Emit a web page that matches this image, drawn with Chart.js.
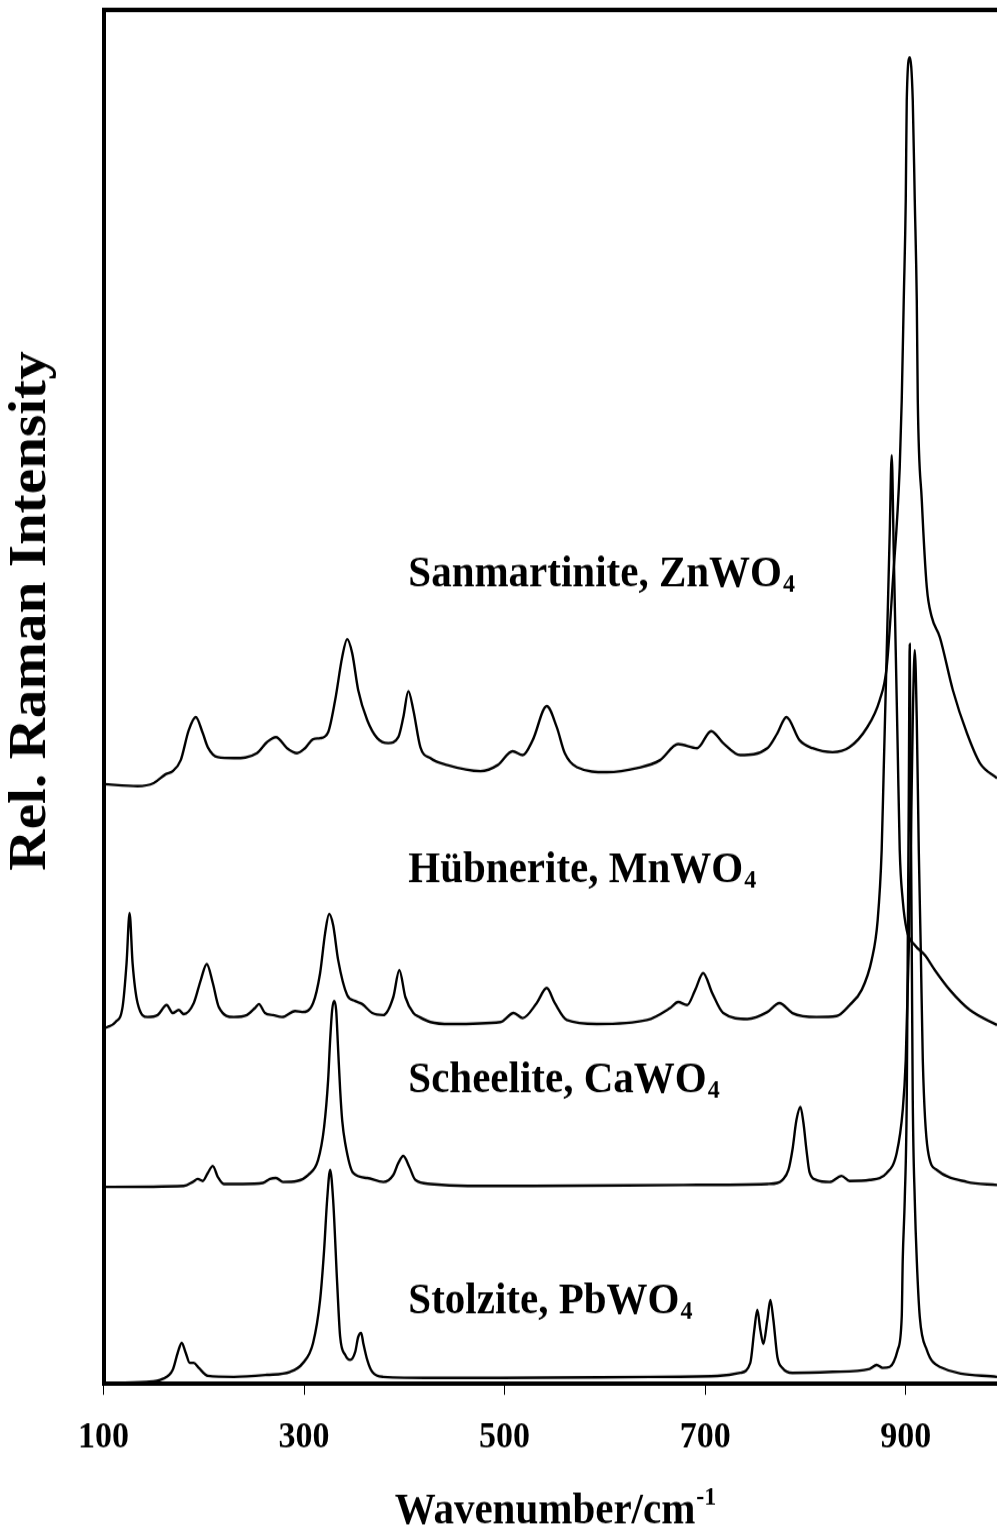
<!DOCTYPE html>
<html>
<head>
<meta charset="utf-8">
<style>
  html, body { margin: 0; padding: 0; background: #fff; overflow: hidden; }
  #wrap { width: 997px; height: 1531px; overflow: hidden; }
  #chart { display: block; transform-origin: 0 0; transform: scaleY(1.09986); }
</style>
<script src="https://cdn.jsdelivr.net/npm/chart.js"></script>
</head>
<body>
<div id="wrap"><canvas id="chart" width="997" height="1392"></canvas></div>
<script>
'use strict'

const tickValues = [100, 300, 500, 700, 900];
const mineralNames = ['Sanmartinite', 'Hübnerite', 'Scheelite', 'Stolzite'];
const formulas = ['ZnWO', 'MnWO', 'CaWO', 'PbWO'];

// Sanmartinite, ZnWO4
const znWn = [100, 134, 150, 162, 169, 177, 185, 192, 199, 204,
    214, 230, 253, 263, 272, 283, 293, 301, 309, 316,
    324, 331, 338, 343, 348, 354, 363, 373, 384, 394,
    399, 404, 409, 416, 426, 443, 476, 493, 508, 518,
    528, 542, 552, 560, 572, 602, 632, 655, 673, 692,
    706, 718, 735, 762, 772, 781, 794, 807, 827, 844,
    861, 874, 881, 887, 894, 896, 898, 900, 901, 904,
    907, 909, 911, 912, 916, 921, 926, 934, 947, 961,
    974, 991];
const znInt = [600, 598, 601, 610, 613, 624, 654, 667, 651, 637,
    627, 626, 631, 642, 647, 636, 631, 636, 645, 646,
    652, 684, 727, 745, 731, 694, 664, 646, 641, 647,
    667, 693, 674, 637, 626, 619, 613, 619, 633, 629,
    644, 678, 657, 631, 617, 612, 616, 624, 640, 636,
    653, 641, 629, 636, 651, 667, 644, 636, 632, 637,
    656, 684, 717, 801, 917, 984, 1084, 1184, 1284, 1327,
    1284, 1184, 1084, 984, 884, 797, 767, 747, 694, 651,
    621, 606];

// Hübnerite, MnWO4
const mnWn = [100, 104, 112, 119, 123, 126, 129, 134, 144, 154,
    163, 169, 175, 180, 190, 197, 203, 209, 215, 230,
    243, 251, 255, 261, 269, 278, 291, 298, 309, 316,
    321, 325, 329, 334, 343, 351, 358, 368, 379, 389,
    395, 401, 409, 415, 426, 446, 496, 509, 518, 532,
    542, 550, 562, 592, 642, 665, 673, 682, 690, 698,
    707, 718, 742, 762, 774, 787, 811, 831, 844, 856,
    866, 872, 876, 878, 880, 882, 884, 886, 888, 890,
    892, 894, 897, 901, 909, 919, 929, 944, 964, 991];
const mnInt = [356, 357, 362, 377, 421, 471, 421, 381, 367, 369,
    379, 371, 374, 370, 381, 404, 420, 401, 377, 367,
    369, 376, 380, 371, 369, 367, 373, 372, 381, 411,
    451, 470, 459, 424, 389, 383, 380, 371, 369, 387,
    414, 387, 371, 367, 362, 360, 362, 371, 366, 381,
    396, 381, 364, 360, 364, 376, 382, 379, 394, 411,
    391, 371, 365, 372, 381, 371, 367, 368, 379, 394,
    424, 464, 534, 613, 692, 771, 850, 929, 834, 734,
    634, 534, 484, 454, 439, 429, 414, 394, 374, 359];

// Scheelite, CaWO4
const caWn = [100, 180, 189, 194, 199, 204, 209, 214, 220, 239,
    259, 266, 272, 279, 293, 304, 314, 320, 324, 326,
    328, 330, 332, 334, 336, 338, 341, 349, 363, 379,
    389, 394, 399, 405, 411, 426, 463, 528, 678, 762,
    772, 777, 783, 787, 791, 795, 798, 801, 804, 811,
    824, 836, 844, 864, 881, 891, 897, 900, 903, 905,
    907, 909, 911, 913, 915, 917, 922, 931, 961, 991];
const caInt = [197, 198, 202, 205, 203, 211, 218, 207, 200, 200,
    201, 205, 206, 202, 203, 209, 224, 257, 304, 344,
    374, 383, 374, 334, 294, 264, 241, 211, 206, 202,
    209, 221, 228, 217, 204, 200, 198, 198, 199, 200,
    201, 204, 214, 234, 264, 277, 261, 234, 212, 204,
    202, 208, 203, 204, 211, 231, 274, 324, 434, 534,
    664, 734, 664, 534, 434, 324, 234, 214, 202, 199];

// Stolzite, PbWO4
const pbWn = [100, 143, 159, 169, 174, 178, 182, 186, 190, 195,
    204, 230, 263, 286, 299, 309, 316, 320, 323, 326,
    329, 333, 336, 341, 346, 351, 354, 357, 359, 363,
    368, 379, 429, 496, 645, 712, 735, 745, 749, 752,
    755, 758, 762, 765, 768, 772, 777, 787, 827, 864,
    871, 877, 884, 892, 896, 897, 899, 901, 902, 903,
    904, 905, 906, 907, 909, 911, 914, 921, 934, 991];
const pbInt = [1, 2, 5, 14, 31, 41, 31, 21, 21, 16,
    8, 7, 9, 12, 21, 41, 84, 134, 184, 214,
    184, 101, 47, 29, 24, 32, 47, 51, 41, 24,
    12, 7, 6, 6, 7, 8, 11, 21, 54, 74,
    54, 40, 64, 84, 64, 27, 16, 11, 12, 15,
    19, 16, 17, 34, 67, 124, 184, 284, 434, 584,
    740, 584, 434, 284, 184, 124, 67, 34, 17, 7];

const family = '"Liberation Serif", "Times New Roman", serif';
Chart.defaults.font.family = family;
Chart.defaults.color = '#000';

// where the series names sit, in axis units (wavenumber, intensity of the baseline)
const labelSpots = [[404, 798], [404, 502], [404, 292], [404, 71]];

function toPoints(wn, inten) {
    return wn.map((v, i) => ({ x: v, y: inten[i] }));
}

function spectrum(name, wn, inten) {
    return {
        label: name,
        data: toPoints(wn, inten),
        borderColor: '#000',
        borderWidth: 2.4,
        pointRadius: 0,
        fill: false,
        cubicInterpolationMode: 'monotone'
    };
}

const textPlugin = {
    id: 'ramanTexts',
    afterDraw(chart) {
        const { ctx, scales: { x, y } } = chart;
        ctx.save();
        ctx.fillStyle = '#000';
        ctx.textAlign = 'left';
        ctx.textBaseline = 'alphabetic';

        // names of the minerals with subscript 4
        mineralNames.forEach((name, i) => {
            const px = x.getPixelForValue(labelSpots[i][0]);
            const py = y.getPixelForValue(labelSpots[i][1]);
            const main = name + ', ' + formulas[i];
            ctx.font = 'bold 41px ' + family;
            ctx.fillText(main, px, py);
            const w = ctx.measureText(main).width;
            ctx.font = 'bold 24px ' + family;
            ctx.fillText('4', px + w + 1, py + 5.5);
        });

        // x title with superscript -1
        const xt = 'Wavenumber/cm';
        ctx.font = 'bold 41px ' + family;
        const tw = ctx.measureText(xt).width;
        const tx = 545 - tw / 2;
        const ty = chart.height - 7.4;
        ctx.fillText(xt, tx, ty);
        ctx.font = 'bold 24px ' + family;
        ctx.fillText('-1', tx + tw + 1, ty - 17);

        // y title
        ctx.translate(32, 555.5);
        ctx.rotate(-Math.PI / 2);
        ctx.textAlign = 'center';
        ctx.textBaseline = 'middle';
        ctx.font = 'bold 52px ' + family;
        ctx.fillText('Rel. Raman Intensity', 0, 0);
        ctx.restore();
    }
};

const ctxRaman = document.getElementById('chart').getContext('2d');

const ramanChart = new Chart(ctxRaman, {
    type: 'line',
    data: {
        datasets: [
            spectrum(mineralNames[0], znWn, znInt),
            spectrum(mineralNames[1], mnWn, mnInt),
            spectrum(mineralNames[2], caWn, caInt),
            spectrum(mineralNames[3], pbWn, pbInt)
        ]
    },
    options: {
        responsive: false,
        maintainAspectRatio: false,
        animation: false,
        layout: { padding: 0 },
        plugins: {
            legend: { display: false },
            tooltip: { enabled: false }
        },
        scales: {
            x: {
                type: 'linear',
                position: 'bottom',
                min: 100,
                max: 991,
                afterBuildTicks: (scale) => {
                    scale.ticks = tickValues.map(v => ({ value: v }));
                },
                afterFit: (scale) => { scale.height = 1392 - 1258.2; },
                grid: { drawOnChartArea: false, drawTicks: true, tickLength: 10, color: '#000', lineWidth: 1 },
                border: { display: true, color: '#000', width: 4 },
                ticks: {
                    font: { size: 34, weight: 'bold' },
                    color: '#000',
                    padding: 19,
                    maxRotation: 0,
                    autoSkip: false
                }
            },
            xTop: {
                type: 'linear',
                position: 'top',
                min: 100,
                max: 991,
                afterFit: (scale) => { scale.height = 8.6; },
                grid: { display: false, drawTicks: false },
                border: { display: true, color: '#000', width: 4 },
                ticks: { display: false }
            },
            y: {
                type: 'linear',
                min: 0,
                max: 1375,
                afterFit: (scale) => { scale.width = 103.5; },
                grid: { display: false, drawTicks: false },
                border: { display: true, color: '#000', width: 4 },
                ticks: { display: false }
            }
        }
    },
    plugins: [textPlugin]
});
</script>
</body>
</html>
